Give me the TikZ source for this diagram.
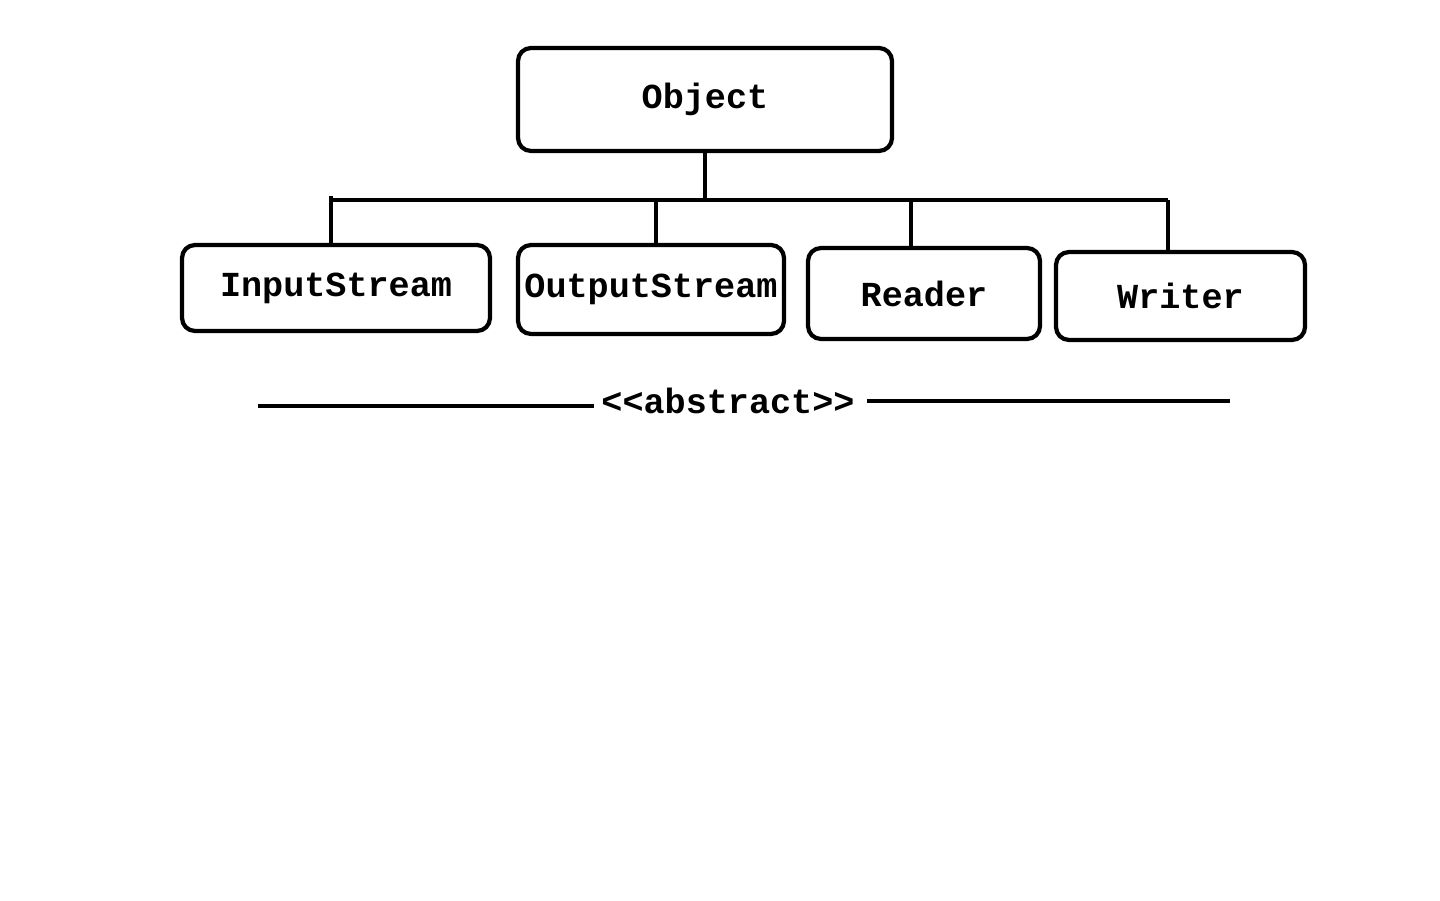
\documentclass[tikz,border=0pt]{standalone}
\usepackage{fontspec}
\setmonofont{Liberation Mono}
\usetikzlibrary{positioning, calc}
\tikzset{
	classbox/.style={rectangle, rounded corners=0.13cm, draw=black, line width=1.2pt, align=center, font=\ttfamily\bfseries, inner sep=0pt},
	link/.style={line width=1.2pt}
}
\begin{document}
\begin{tikzpicture}
		\useasboundingbox (0,0) rectangle (14.4,9);
		% Clases
		\node [classbox, minimum width=3.74cm, minimum height=1.03cm] (obj) at (7.05,8.005) {Object};
		\node [classbox, minimum width=3.08cm, minimum height=0.86cm] (in) at (3.36,6.12) {InputStream};
		\node [classbox, minimum width=2.66cm, minimum height=0.89cm] (out) at (6.51,6.105) {OutputStream};
		\node [classbox, minimum width=2.32cm, minimum height=0.91cm] (rd) at (9.24,6.065) {Reader};
		\node [classbox, minimum width=2.49cm, minimum height=0.88cm] (wr) at (11.805,6.04) {Writer};
		
		% Bus de herencia
		\coordinate (busA) at (3.31,7.0);
		\coordinate (busB) at (6.56,7.0);
		\coordinate (busC) at (9.11,7.0);
		\coordinate (busD) at (11.68,7.0);
		\draw [link] (obj.south) -- (obj.south |- busA);
		\draw [link] (busA) -- (busD);
		\draw [link] ($(busA)+(0,0.04)$) -- (busA |- in.north);
		\draw [link] (busB) -- (busB |- out.north);
		\draw [link] (busC) -- (busC |- rd.north);
		\draw [link] (busD) -- (busD |- wr.north);
		
		% Etiqueta abstract
		\node [font=\ttfamily\bfseries, inner sep=1pt] (abs) at (7.28,4.99) {<{}<abstract>{}>};
		\coordinate (absL) at (2.58,4.94);
		\coordinate (absR) at (12.30,4.99);
		\draw [link] (absL) -- ($(absL -| abs.west)+(-0.03,0)$);
		\draw [link] ($(abs.east)+(0.08,0)$) -- (absR);
	\end{tikzpicture}
\end{document}
